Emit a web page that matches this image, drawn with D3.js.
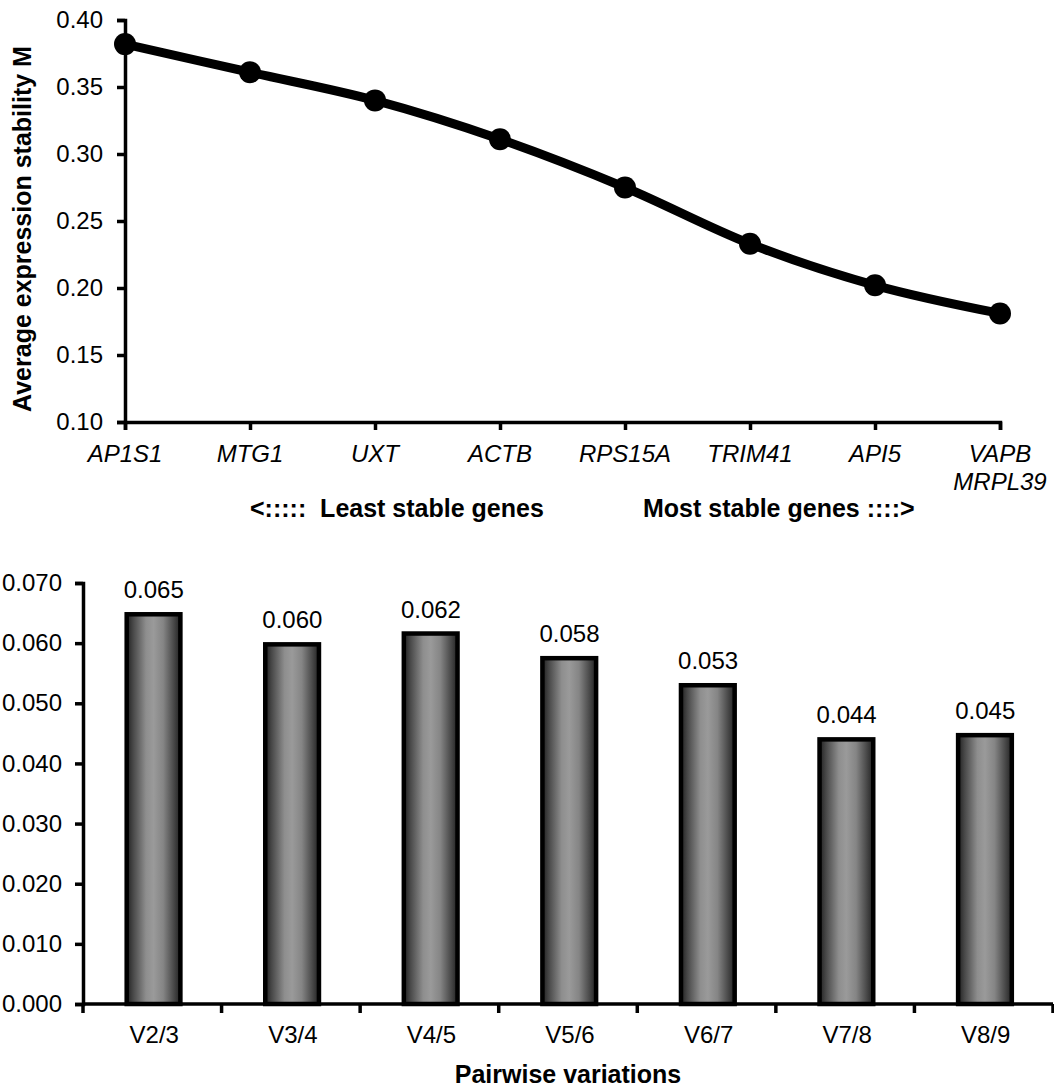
<!DOCTYPE html>
<html>
<head>
<meta charset="utf-8">
<script src="https://cdn.jsdelivr.net/npm/d3@7"></script>
<style>
  html, body { margin: 0; padding: 0; background: #fff; }
  svg { display: block; font-family: "Liberation Sans", Arial, sans-serif; }
</style>
</head>
<body>
<svg id="chart" width="1054" height="1088"></svg>
<script>
// ---- Data: top chart (geNorm average expression stability M) ----
const genes = ["AP1S1", "MTG1", "UXT", "ACTB", "RPS15A", "TRIM41", "API5", "VAPB\nMRPL39"];
const stabilityM = [0.382, 0.361, 0.340, 0.311, 0.275, 0.233, 0.202, 0.181];
const topTicks = [0.10, 0.15, 0.20, 0.25, 0.30, 0.35, 0.40];
const topYTitle = "Average expression stability M";
const leastLabel = "<:::::  Least stable genes";
const mostLabel = "Most stable genes ::::>";

// ---- Data: bottom chart (pairwise variations) ----
const pairs = ["V2/3", "V3/4", "V4/5", "V5/6", "V6/7", "V7/8", "V8/9"];
const pairValues = [0.0648, 0.0598, 0.0616, 0.0575, 0.0530, 0.0440, 0.0447];
const bottomTicks = [0.000, 0.010, 0.020, 0.030, 0.040, 0.050, 0.060, 0.070];
const bottomXTitle = "Pairwise variations";

const svg = d3.select("#chart");
const FS = 24;
const FSB = 25;

// ================= TOP CHART =================
const mTop = { left: 125, right: 1000, top: 20, bottom: 422 };
const xTop = d3.scalePoint().domain(genes).range([mTop.left, mTop.right]);
const yTop = d3.scaleLinear().domain([0.10, 0.40]).range([mTop.bottom, mTop.top]);

const gTop = svg.append("g");

const yAxisTop = d3.axisLeft(yTop).tickValues(topTicks).tickFormat(d3.format(".2f")).tickSizeOuter(0).tickSize(8).tickPadding(14);
const yaT = gTop.append("g").attr("transform", `translate(${mTop.left},0)`).call(yAxisTop);
yaT.select(".domain").attr("stroke", "#000").attr("stroke-width", 3.5);
yaT.selectAll(".tick line").attr("stroke", "#000").attr("stroke-width", 3.5);
yaT.selectAll(".tick text").attr("font-size", FS).attr("fill", "#000").attr("font-family", "Liberation Sans, Arial, sans-serif");

const xAxisTop = d3.axisBottom(xTop).tickSizeOuter(0).tickSize(8).tickFormat("");
const xaT = gTop.append("g").attr("transform", `translate(0,${mTop.bottom})`).call(xAxisTop);
xaT.select(".domain").attr("stroke", "#000").attr("stroke-width", 3.5);
xaT.selectAll(".tick line").attr("stroke", "#000").attr("stroke-width", 3.5);

genes.forEach(g => {
  const lines = g.split("\n");
  const t = gTop.append("text")
    .attr("x", xTop(g)).attr("y", mTop.bottom + 40)
    .attr("text-anchor", "middle")
    .attr("font-size", FS).attr("font-style", "italic").attr("fill", "#000");
  lines.forEach((ln, i) => {
    t.append("tspan").attr("x", xTop(g)).attr("dy", i === 0 ? 0 : 28).text(ln);
  });
});

gTop.append("text")
  .attr("transform", `translate(31,${(mTop.top + mTop.bottom) / 2 + 8}) rotate(-90)`)
  .attr("text-anchor", "middle")
  .attr("font-size", FSB).attr("font-weight", "bold").attr("fill", "#000")
  .text(topYTitle);

gTop.append("text").attr("x", 250).attr("y", 517)
  .attr("font-size", FSB).attr("font-weight", "bold").attr("fill", "#000")
  .style("white-space", "pre")
  .text(leastLabel);
gTop.append("text").attr("x", 643).attr("y", 517)
  .attr("font-size", FSB).attr("font-weight", "bold").attr("fill", "#000")
  .text(mostLabel);

const line = d3.line()
  .x((d, i) => xTop(genes[i]))
  .y(d => yTop(d))
  .curve(d3.curveCardinal.tension(0));
gTop.append("path").datum(stabilityM)
  .attr("d", line).attr("fill", "none").attr("stroke", "#000")
  .attr("stroke-width", 9).attr("stroke-linejoin", "round");
gTop.selectAll("circle.pt").data(stabilityM).enter().append("circle")
  .attr("class", "pt")
  .attr("cx", (d, i) => xTop(genes[i]))
  .attr("cy", d => yTop(d))
  .attr("r", 11).attr("fill", "#000");

// ================= BOTTOM CHART =================
const mBot = { left: 83, right: 1053, top: 583, bottom: 1004 };
const xBot = d3.scaleBand().domain(pairs).range([mBot.left, mBot.right]).paddingInner(0.58).paddingOuter(0.29);
const yBot = d3.scaleLinear().domain([0, 0.070]).range([mBot.bottom, mBot.top]);

const defs = svg.append("defs");
const grad = defs.append("linearGradient").attr("id", "barGrad").attr("x1", "0%").attr("x2", "100%").attr("y1", "0%").attr("y2", "0%");
[[0, "#202020"], [0.12, "#484848"], [0.36, "#8e8e8e"], [0.5, "#9a9a9a"], [0.68, "#858585"], [0.86, "#4e4e4e"], [1, "#222222"]]
  .forEach(([o, c]) => grad.append("stop").attr("offset", o).attr("stop-color", c));

const gBot = svg.append("g");

const yAxisBot = d3.axisLeft(yBot).tickValues(bottomTicks).tickFormat(d3.format(".3f")).tickSizeOuter(0).tickSize(8).tickPadding(13);
const yaB = gBot.append("g").attr("transform", `translate(${mBot.left},0)`).call(yAxisBot);
yaB.select(".domain").attr("stroke", "#000").attr("stroke-width", 3.5);
yaB.selectAll(".tick line").attr("stroke", "#000").attr("stroke-width", 3.5);
yaB.selectAll(".tick text").attr("font-size", FS).attr("fill", "#000").attr("font-family", "Liberation Sans, Arial, sans-serif");

gBot.selectAll("rect.bar").data(pairValues).enter().append("rect")
  .attr("class", "bar")
  .attr("x", (d, i) => xBot(pairs[i]) + 3.5)
  .attr("y", d => yBot(d))
  .attr("width", xBot.bandwidth() - 4.5)
  .attr("height", d => yBot(0) - yBot(d))
  .attr("fill", "url(#barGrad)")
  .attr("stroke", "#000").attr("stroke-width", 4.5);

gBot.selectAll("text.val").data(pairValues).enter().append("text")
  .attr("class", "val")
  .attr("x", (d, i) => xBot(pairs[i]) + xBot.bandwidth() / 2 + 1.5)
  .attr("y", d => yBot(d) - 16)
  .attr("text-anchor", "middle")
  .attr("font-size", FS).attr("fill", "#000")
  .text(d => d3.format(".3f")(d));

const boundaries = d3.range(pairs.length + 1).map(i => mBot.left + i * (mBot.right - mBot.left) / pairs.length);
gBot.append("line").attr("x1", mBot.left).attr("x2", mBot.right).attr("y1", mBot.bottom).attr("y2", mBot.bottom)
  .attr("stroke", "#000").attr("stroke-width", 3.5);
gBot.selectAll("line.bt").data(boundaries).enter().append("line")
  .attr("class", "bt")
  .attr("x1", d => d).attr("x2", d => d)
  .attr("y1", mBot.bottom).attr("y2", mBot.bottom + 9)
  .attr("stroke", "#000").attr("stroke-width", 3.5);
gBot.selectAll("text.cat").data(pairs).enter().append("text")
  .attr("class", "cat")
  .attr("x", d => xBot(d) + xBot.bandwidth() / 2 + 2)
  .attr("y", 1043)
  .attr("text-anchor", "middle")
  .attr("font-size", FS).attr("fill", "#000")
  .text(d => d);

gBot.append("text")
  .attr("x", (mBot.left + mBot.right) / 2).attr("y", 1083)
  .attr("text-anchor", "middle")
  .attr("font-size", FSB).attr("font-weight", "bold").attr("fill", "#000")
  .text(bottomXTitle);
</script>
</body>
</html>
